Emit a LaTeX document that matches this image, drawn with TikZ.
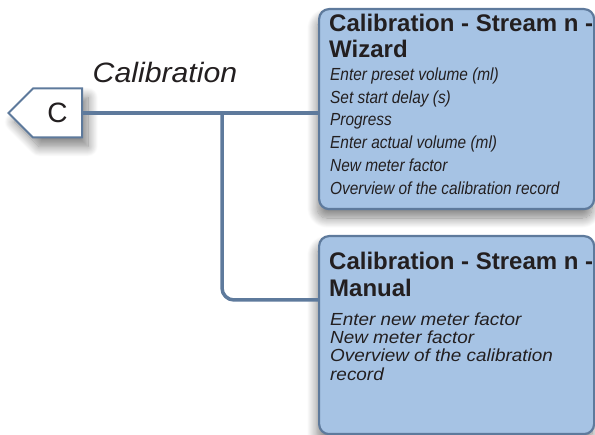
\documentclass[tikz,border=0pt]{standalone}
\usepackage{fontspec}
\setmainfont{Liberation Sans}
\newfontfamily\narrowfont[FakeStretch=0.88]{Liberation Sans}
\newfontfamily\widefont[FakeStretch=1.08]{Liberation Sans}
\usetikzlibrary{positioning, shapes.symbols, shadows.blur}
\definecolor{linea}{RGB}{94,122,156}
\definecolor{caja}{RGB}{166,195,228}
\definecolor{tinta}{RGB}{35,31,32}
\setlength{\lineskiplimit}{-30pt}

\begin{document}
\begin{tikzpicture}[x=1pt, y=-1pt,
        panel/.style={rectangle, draw=linea, line width=2.2pt, fill=caja, rounded corners=10pt, minimum width=275pt, anchor=north west,
            blur shadow={shadow xshift=-2pt, shadow yshift=-9pt, shadow blur steps=14, shadow blur radius=10pt, shadow opacity=50}},
        tag/.style={signal, signal to=west, signal from=nowhere, signal pointer angle=90, draw=linea, line width=2pt, fill=white,
            minimum height=49pt, inner xsep=14.4pt, inner ysep=0pt, text=tinta, font=\fontsize{28}{28}\selectfont,
            blur shadow={shadow xshift=6pt, shadow yshift=-9pt, shadow blur steps=14, shadow blur radius=10pt, shadow opacity=50}},
        head/.style={anchor=north west, align=left, inner sep=0pt, text=tinta, font=\bfseries\fontsize{24}{26.5}\selectfont},
        items/.style={anchor=north west, align=left, inner sep=0pt, text=tinta},
        link/.style={draw=linea, line width=3.5pt}
    ]
        \useasboundingbox (0,0) rectangle (595,435);

        % menu tag and its title
        \node[tag] (menu) at (57.5,113) {C};
        \node[anchor=base, inner sep=0pt, text=tinta, font=\widefont\itshape\fontsize{28}{28}\selectfont] (titel) at (165,83) {Calibration};

        % the two screens
        \node[panel, minimum height=200pt] (wiz) at (318,8) {};
        \node[panel, minimum height=198pt] (man) at (318,235) {};

        \node[head] (wizhead) at (329,13.5) {Calibration - Stream n -\\Wizard};
        \node[items, font=\narrowfont\itshape\fontsize{17.5}{22.8}\selectfont] (wizlist) at (330,67.5)
            {Enter preset volume (ml)\\Set start delay (s)\\Progress\\Enter actual volume (ml)\\New meter factor\\Overview of the calibration record};

        \node[head] (manhead) at (329,252) {Calibration - Stream n -\\Manual};
        \node[items, font=\widefont\itshape\fontsize{17.5}{18.3}\selectfont] (manlist) at (330,312.5)
            {Enter new meter factor\\New meter factor\\Overview of the calibration\\record};

        % connectors
        \coordinate (split) at (222,113);
        \coordinate (low) at (318,300);
        \draw[link] (menu.east) -- (menu.east -| wiz.west);
        \draw[link, rounded corners=12pt] (split) |- (low);
    \end{tikzpicture}
\end{document}
